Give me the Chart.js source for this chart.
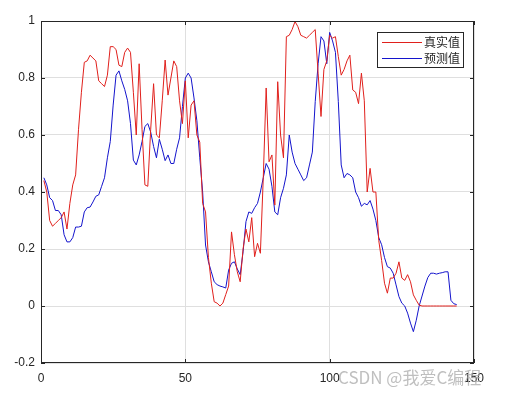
<!DOCTYPE html>
<html>
<head>
<meta charset="utf-8">
<script src="https://cdn.jsdelivr.net/npm/chart.js@4.4.0/dist/chart.umd.min.js"></script>
<style>
    html, body { margin: 0; padding: 0; background: #fff; }
    #wrap { position: relative; width: 515px; height: 395px; }
</style>
</head>
<body>
<div id="wrap"><canvas id="chart" width="515" height="395"></canvas></div>
<script>
// series, sample index 1..144
const realVals = [
    0.44, 0.40, 0.30, 0.28, 0.29, 0.30, 0.31, 0.33, 0.27, 0.36,
    0.425, 0.46, 0.62, 0.75, 0.855, 0.86, 0.88, 0.87, 0.86, 0.79,
    0.78, 0.77, 0.81, 0.91, 0.91, 0.90, 0.845, 0.84, 0.89, 0.905,
    0.89, 0.75, 0.60, 0.85, 0.62, 0.425, 0.42, 0.62, 0.78, 0.60,
    0.59, 0.72, 0.863, 0.74, 0.80, 0.86, 0.84, 0.72, 0.64, 0.79,
    0.59, 0.705, 0.72, 0.60, 0.575, 0.36, 0.33, 0.17, 0.08, 0.015,
    0.01, 0.0, 0.01, 0.04, 0.07, 0.26, 0.18, 0.12, 0.085, 0.20,
    0.27, 0.225, 0.31, 0.173, 0.22, 0.185, 0.45, 0.765, 0.506, 0.53,
    0.354, 0.787, 0.60, 0.52, 0.945, 0.95, 0.97, 0.998, 0.98, 0.95,
    0.945, 0.94, 0.95, 0.96, 0.97, 0.817, 0.665, 0.83, 0.86, 0.95,
    0.94, 0.945, 0.875, 0.81, 0.83, 0.86, 0.88, 0.758, 0.75, 0.71,
    0.817, 0.72, 0.40, 0.483, 0.40, 0.40, 0.23, 0.16, 0.08, 0.045,
    0.098, 0.098, 0.115, 0.155, 0.098, 0.09, 0.11, 0.085, 0.039, 0.02,
    0.003, 0, 0, 0, 0, 0, 0, 0, 0, 0,
    0, 0, 0, 0
];
const predVals = [
    0.45, 0.425, 0.38, 0.37, 0.335, 0.335, 0.32, 0.25, 0.225, 0.225,
    0.24, 0.277, 0.277, 0.28, 0.33, 0.345, 0.347, 0.365, 0.385, 0.39,
    0.42, 0.45, 0.52, 0.577, 0.705, 0.81, 0.825, 0.79, 0.76, 0.72,
    0.64, 0.512, 0.495, 0.53, 0.577, 0.63, 0.64, 0.61, 0.56, 0.52,
    0.585, 0.55, 0.51, 0.53, 0.50, 0.50, 0.55, 0.59, 0.70, 0.80,
    0.817, 0.80, 0.73, 0.65, 0.52, 0.40, 0.214, 0.155, 0.12, 0.085,
    0.075, 0.07, 0.067, 0.063, 0.126, 0.15, 0.155, 0.13, 0.11, 0.19,
    0.296, 0.33, 0.325, 0.345, 0.36, 0.40, 0.45, 0.50, 0.48, 0.42,
    0.33, 0.32, 0.38, 0.413, 0.46, 0.60, 0.54, 0.50, 0.48, 0.46,
    0.44, 0.45, 0.495, 0.54, 0.717, 0.85, 0.945, 0.93, 0.85, 0.96,
    0.93, 0.89, 0.717, 0.495, 0.45, 0.465, 0.46, 0.45, 0.40, 0.38,
    0.35, 0.36, 0.355, 0.37, 0.34, 0.30, 0.24, 0.215, 0.17, 0.138,
    0.133, 0.115, 0.074, 0.033, 0.01, 0.0, -0.025, -0.06, -0.09, -0.05,
    0.0, 0.035, 0.07, 0.10, 0.115, 0.115, 0.112, 0.115, 0.117, 0.12,
    0.12, 0.02, 0.008, 0.005
];
const xTicks = [0, 50, 100, 150];
const yTicks = [-0.2, 0, 0.2, 0.4, 0.6, 0.8, 1];
const seriesNames = ['真实值', '预测值'];
const seriesColors = ['#e0201c', '#1414cc'];

const toPoints = arr => arr.map((v, i) => ({ x: i + 1, y: v }));

// box, inward ticks (MATLAB style), legend and watermark
const matlabFrame = {
    id: 'matlabFrame',
    afterDraw(chart) {
        const { ctx, chartArea: a, scales } = chart;
        ctx.save();
        ctx.strokeStyle = '#262626';
        ctx.lineWidth = 1;
        ctx.strokeRect(a.left + 0.5, a.top + 0.5, a.right - a.left - 1, a.bottom - a.top - 1);
        ctx.beginPath();
        xTicks.forEach(t => {
            const px = Math.round(scales.x.getPixelForValue(t)) + 0.5;
            ctx.moveTo(px, a.bottom); ctx.lineTo(px, a.bottom - 4);
            ctx.moveTo(px, a.top); ctx.lineTo(px, a.top + 4);
        });
        yTicks.forEach(t => {
            const py = Math.round(scales.y.getPixelForValue(t)) + 0.5;
            ctx.moveTo(a.left, py); ctx.lineTo(a.left + 4, py);
            ctx.moveTo(a.right, py); ctx.lineTo(a.right - 4, py);
        });
        ctx.stroke();

        // legend
        const lx = 377, ly = 32, lw = 86, lh = 35;
        ctx.fillStyle = '#fff';
        ctx.fillRect(lx, ly, lw, lh);
        ctx.strokeStyle = '#262626';
        ctx.strokeRect(lx + 0.5, ly + 0.5, lw, lh);
        ctx.font = '12px "Noto Sans CJK SC"';
        ctx.textBaseline = 'middle';
        seriesNames.forEach((name, i) => {
            const y = ly + 10 + i * 16;
            ctx.strokeStyle = seriesColors[i];
            ctx.beginPath();
            ctx.moveTo(lx + 5, y + 0.5); ctx.lineTo(lx + 45, y + 0.5);
            ctx.stroke();
            ctx.fillStyle = '#262626';
            ctx.fillText(name, lx + 47, y);
        });

        // watermark
        ctx.font = '17px "Noto Sans CJK SC"';
        ctx.fillStyle = 'rgba(170,170,170,0.75)';
        ctx.textBaseline = 'middle';
        ctx.fillText('CSDN @我爱C编程', 338, 378);
        ctx.restore();
    }
};

new Chart(document.getElementById('chart'), {
    type: 'line',
    data: {
        datasets: [
            { label: seriesNames[0], data: toPoints(realVals), borderColor: seriesColors[0], borderWidth: 1, pointRadius: 0, tension: 0 },
            { label: seriesNames[1], data: toPoints(predVals), borderColor: seriesColors[1], borderWidth: 1, pointRadius: 0, tension: 0 }
        ]
    },
    options: {
        responsive: false,
        animation: false,
        layout: { padding: { top: 21, right: 41, left: 0, bottom: 0 } },
        plugins: { legend: { display: false }, tooltip: { enabled: false } },
        scales: {
            x: {
                type: 'linear', min: 0, max: 150,
                afterBuildTicks: s => { s.ticks = xTicks.map(v => ({ value: v })); },
                afterFit: s => { s.height = 32; },
                grid: { color: '#dfdfdf', drawTicks: false },
                border: { display: false },
                ticks: { color: '#262626', padding: 8, font: { family: 'Liberation Sans', size: 12 }, maxRotation: 0 }
            },
            y: {
                type: 'linear', min: -0.2, max: 1,
                afterBuildTicks: s => { s.ticks = yTicks.map(v => ({ value: v })); },
                afterFit: s => { s.width = 41; },
                grid: { color: '#dfdfdf', drawTicks: false },
                border: { display: false },
                ticks: {
                    color: '#262626', padding: 6, font: { family: 'Liberation Sans', size: 12 },
                    callback: v => String(Math.round(v * 10) / 10)
                }
            }
        }
    },
    plugins: [matlabFrame]
});
</script>
</body>
</html>
